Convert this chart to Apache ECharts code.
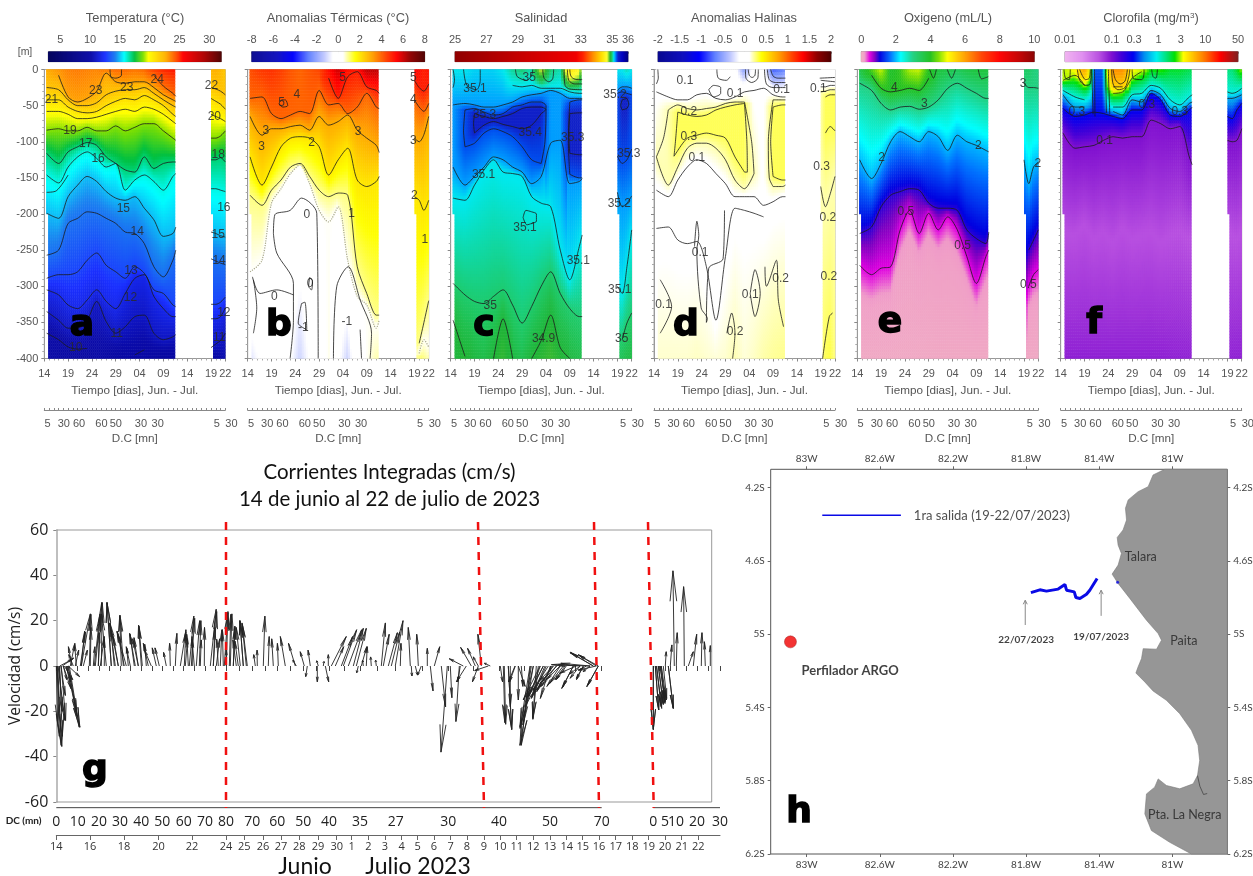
<!DOCTYPE html>
<html><head><meta charset="utf-8">
<style>html,body{margin:0;padding:0;background:#fff}#c{width:1253px;height:876px;filter:blur(0.45px)}</style>
<script src="https://cdn.jsdelivr.net/npm/echarts@6/dist/echarts.min.js"></script>
</head><body><div id="c"></div>
<script>
// ---------- shared section axes ----------
const stations=[0.5,3,5,7,9,11,13,15,17,19,21,23,25,27,27.6, 35,36,37,38];
const dayTickDays=[0,5,10,15,20,25,30,35,38];
const dayTickLabels=['14','19','24','29','04','09','14','19','22'];
const dcDays=[0.7,4.1,7.3,12,15,20.3,23.8,36.2,38];
const dcLabels=['5','30','60','60','50','30','30','5','30'];
const _=null;
// ---------- a: temperature ----------
const tempLevels=[24,23,22,21,20,19,17,16,15,14,13,12,11,10];
const tempDepths=[
[_,_,_,_,_,_,_,_,_,_,_,-8,-23,-33,-37,_,_,_,_],
[_,-8,-38,-45,-40,-30,-5,-17,-19,-17,-17,-25,-35,-42,-44,_,_,_,_],
[-25,-28,-42,-50,-50,-46,-35,-30,-28,-28,-25,-33,-42,-50,-52,-25,-27,-30,-35],
[-42,-42,-52,-58,-60,-58,-50,-44,-40,-42,-36,-42,-50,-62,-65,-40,-44,-48,-55],
[-58,-58,-62,-68,-68,-66,-62,-58,-55,-58,-52,-55,-62,-72,-75,-62,-65,-68,-72],
[-84,-82,-85,-85,-80,-85,-85,-78,-85,-80,-75,-75,-85,-95,-98,-95,-95,-92,-85],
[-116,-130,-114,-107,-101,-105,-121,-130,-139,-142,-121,-137,-130,-128,-128,-125,-125,-122,-128],
[-146,-157,-135,-121,-114,-123,-135,-130,-167,-153,-146,-155,-167,-148,-144,-165,-165,-167,-169],
[-199,-206,-176,-160,-148,-155,-169,-178,-181,-176,-192,-208,-231,-227,-218,-225,-227,-230,-232],
[-257,-250,-213,-206,-197,-199,-206,-213,-225,-227,-241,-273,-287,-264,-250,-262,-265,-268,-270],
[-289,-284,-284,-280,-264,-254,-271,-280,-289,-273,-282,-305,-310,-326,-328,-325,-325,-322,-315],
[-305,-312,-326,-331,-319,-305,-321,-331,-310,-289,-284,-314,-331,-342,-342,-345,-345,-342,-330],
[-335,-347,-358,-358,-347,-321,-349,-365,-356,-342,-340,-365,-374,-370,-367,-385,-380,-375,-365],
[-365,-374,-384,-387,-386,_,_,_,_,-395,-388,_,_,_,_,_,_,_,_]];
const tempSurface=[22.8,23.2,23.6,23.7,23.6,23.5,23.8,24,24,23.8,24,24.8,25.1,25.3,25.3,22.5,22.7,22.4,21.8];
const tempBottom=[10.2,9.9,9.7,9.6,9.6,10,9.8,9.6,9.8,9.9,10,9.6,9.5,9.6,9.6,10,10,10.2,10.5];
const tempLabels=[['23',10.8,-30],['23',17.3,-25],['24',23.7,-14],['21',1.5,-42],['22',35.1,-23],['20',35.7,-65],['19',5.4,-85],['17',8.7,-102],['16',11.3,-124],['18',36.5,-118],['15',16.6,-192],['16',37.7,-191],['14',19.5,-225],['15',36.5,-229],['14',36.7,-264],['13',18.2,-278],['12',18.1,-316],['12',37.7,-337],['11',15.2,-365],['11',36.7,-371],['10',6.6,-385]];
const tempExtra=[[[13.8,0],[14,-10],[15,-12],[16.2,-8],[16.2,0]],[[0.5,-170],[2.5,-168],[5,-146]]];
// ---------- b: thermal anomaly ----------
const anomTLevels=[5,4,3,2,1,0.5];
const anomTDepths=[
[_,_,_,_,_,_,_,_,-12,-40,-10,-3,-24,-29,-33,-15,-25,-30,-20],
[-40,-38,-61,-68,-63,-58,-61,-29,-49,-47,-61,-52,-33,-52,-54,-42,-52,-58,-47],
[-65,-91,-82,-82,-79,-77,-84,-65,-77,-72,-63,-84,-95,-105,-115,-95,-100,-90,-65],
[-121,-160,-135,-107,-95,-93,-95,-107,-146,-125,-109,-153,-162,-155,-148,-176,-181,-195,-181],
[-174,-188,-167,-153,-135,-130,-148,-167,-176,-171,-174,-273,-310,-340,-340,_,-379,-350,-320],
[-280,-264,-185,-165,-144,-132,-158,-195,-211,-190,-264,-314,-326,-358,-347,_,-393,-374,-384]];
const anomTSurface=[4.3,4.6,4.7,4.5,4.2,4,4.2,4.4,5.2,6,5.2,5.2,6.2,6.2,6.2,5.5,5.3,5,5.2];
const anomTBottom=[-0.9,-0.3,-0.1,0,-0.4,-1.1,-0.4,-0.1,0.6,-0.3,-1.1,0.2,0.5,0.8,0.8,0.8,1.2,1,0.8];
const anomTLabels=[['5',7.1,-46],['4',10.3,-35],['5',19.9,-11],['5',34.8,-12],['4',34.8,-42],['3',3.8,-84],['3',23.2,-86],['3',34.8,-99],['3',2.9,-107],['2',13.4,-101],['2',35,-175],['0',12.4,-201],['1',21.8,-199],['1',37.2,-236],['0',5.6,-314],['0',13.1,-296],['-1',11.7,-358],['-1',20.8,-349]];
const anomTExtra=[
[[5.4,-227],[5.7,-201],[8.9,-195],[11.3,-178],[14.5,-199],[14.8,-400]],
[[5.4,-227],[6.1,-254],[9.6,-296],[9.6,-347],[8.9,-400]],
[[1,-287],[2.6,-310],[6.1,-305],[9.6,-312]],
[[18,-400],[18.7,-300],[21.1,-273],[23.6,-319],[26,-365],[25.7,-400]],
[[23.6,-360],[23.9,-400]],
[[11.3,-324],[12,-322],[12.4,-360],[10.6,-351],[11.3,-324]],
[[1.2,-291],[1.9,-330],[1.2,-365]],
[[13,-288],[13.6,-292],[13.4,-305],[12.8,-300],[13,-288]],
[[7.1,-42],[7.9,-42],[8.4,-50],[7.4,-52],[6.6,-47],[7.1,-42]]];
// ---------- c: salinity ----------
const salLevels=[35.1,35.2,35.3,35.4,35.4,35.3,35.2,35.1,35,34.9];
const salDepths=[
[_,_,_,_,_,_,-22,-24,-22,-26,-26,-26,-31,-33,-33,_,_,_,_],
[-49,-47,-49,-52,-52,-49,-45,-38,-35,-33,-29,-33,-40,-40,-40,-29,-24,-24,-26],
[_,-56,-54,-59,-63,-61,-52,-49,-45,-45,_,_,-45,-42,-42,-33,-31,-33,-35],
[_,_,-61,-65,-68,-65,-61,-54,-52,-52,_,_,-61,-60,-60,_,-42,-40,_],
[_,_,-88,-77,-72,-76,-79,-82,-77,-61,_,_,-116,-118,-118,_,-56,-54,_],
[_,-107,-102,-88,-82,-86,-93,-107,-125,-130,_,_,-145,-150,-150,-120,-130,-125,-110],
[-135,-160,-148,-135,-121,-125,-135,-142,-158,-148,-102,-98,-158,-155,-151,-170,-190,-185,-175],
[-178,-181,-160,-139,-125,-142,-144,-148,-176,-185,-190,-250,-291,-245,-229,-300,-310,-273,-222],
[-296,-312,-321,-324,-314,-305,-326,-351,-328,-300,-280,-310,-331,-342,-342,_,-374,-351,-337],
[-347,-397,_,_,-400,-345,-400,_,-400,-375,-340,-385,-400,_,_,_,_,_,_]];
const salSurface=[35.1,35.1,35.13,35.13,35.13,35.1,35.03,35,35.05,34.7,35,35.05,34.4,34.6,35,35.1,35.1,35.05,35.1];
const salBottom=[34.92,34.88,34.92,34.94,34.9,34.87,34.92,34.95,34.9,34.88,34.86,34.89,34.92,34.94,34.94,34.97,34.96,34.94,34.93];
const salLabels=[['35.1',5.1,-26],['35',16.5,-11],['35.3',7.1,-63],['35.4',16.7,-88],['35.3',25.6,-95],['35.2',34.5,-35],['35.3',37.4,-116],['35.1',6.9,-146],['35.1',15.6,-219],['35.2',35.4,-186],['35.1',26.8,-265],['35.1',35.5,-305],['35',8.3,-327],['34.9',19.5,-372],['35',35.9,-372]];
const salExtra=[
[[23.8,0],[24,-22],[25,-27],[27.6,-28]],[[24.5,0],[24.8,-15],[26,-20],[27.6,-20]],[[25,0],[25.3,-10],[26.5,-14],[27.6,-14]],
[[19.3,0],[19.6,-12],[20.6,-17],[21.4,-13],[21.6,0]],[[13.6,0],[14,-10],[16,-15],[17,-8],[17.2,0]],
[[15.2,-205],[15.8,-195],[17,-197],[18,-200],[18,-210],[17,-213],[16,-215],[15.2,-205]],
[[0.5,0],[0.8,-15],[0.5,-25]],[[2.7,0],[3.4,-22],[5.4,-28],[6.2,-15],[6.2,0]],
[[3,-56],[2.7,-85],[3,-107]],[[19,-45],[20,-50],[19.8,-100],[19,-130]],[[5,-61],[4.8,-75],[5,-88]],[[19,-52],[20,-55],[19,-61]],
[[25,-45],[24.7,-100],[25,-145]],[[25,-61],[24.8,-90],[25,-116]],[[36,-42],[35.7,-50],[36,-56]],[[37,-40],[37.4,-48],[37,-54]]];
// ---------- d: haline anomaly ----------
const anomSLevels=[0.1,0.2,0.3,0.3,0.2,0.1,0.1];
const anomSDepths=[
[-31,-38,-42,-42,-35,-33,-40,-42,-38,-31,-29,-26,-35,-38,-38,-24,-24,-22,-22],
[_,-56,-49,-54,-56,-54,-52,-47,-45,-45,_,_,-42,-42,-42,-31,-30,-28,-28],
[_,_,-59,-63,-65,-63,-56,-52,-49,-47,_,_,-52,-49,-49,_,-38,-35,-35],
[_,_,-112,-95,-91,-88,-91,-95,-121,-142,_,_,-148,-153,-153,_,-88,-79,-85],
[-121,-160,-135,-109,-102,-102,-109,-125,-153,-165,-144,_,-162,-162,-160,-162,-190,-172,-148],
[-167,-176,-153,-135,-125,-130,-144,-158,-176,-176,-176,-188,-183,-176,-176,_,_,_,_],
[-220,-218,-236,-241,-238,-273,-347,-259,-192,-195,-199,-204,_,_,_,_,_,_,_]];
const anomSSurface=[0.05,0.05,0,0.08,0.05,0.05,0.02,0.02,0,-0.55,0,0,-0.8,-0.7,-0.6,0.05,0.05,0.05,0.05];
const anomSBottom=[0.17,0.17,0.17,0.17,0.18,0.17,0.16,0.17,0.2,0.16,0.18,0.21,0.23,0.24,0.24,0.25,0.3,0.32,0.25];
const anomSLabels=[['0.1',6.5,-15],['0.2',7.3,-58],['0.3',7.3,-93],['0.1',9,-122],['0.1',26.8,-28],['0.1',17,-33],['0.1',34.5,-26],['0.3',35.2,-135],['0.2',36.5,-205],['0.1',9.7,-253],['0.1',2,-325],['0.1',20.2,-312],['0.2',26.6,-289],['0.2',36.7,-287],['0.2',17,-363]];
const anomSExtra=[
[[0.8,0],[0.9,-12],[0.5,-20]],[[11.5,-28],[12.5,-22],[14,-25],[14,-33],[12.5,-38],[11.5,-28]],
[[19.2,0],[19.3,-12],[20.5,-18],[21.8,-12],[21.9,0]],[[19.8,0],[20,-8],[20.6,-11],[21.2,-8],[21.3,0]],
[[23.2,0],[23.6,-20],[25,-25],[27.6,-25]],[[23.8,0],[24.2,-14],[25.5,-18],[27.6,-18]],[[24.5,0],[25,-9],[26,-12],[27.6,-12]],
[[13.2,0],[13.5,-12],[15.2,-15],[16,-10]],
[[20.2,-310],[21.2,-277],[22.3,-310],[21.2,-342],[20.2,-310]],
[[23.3,-273],[23.6,-300],[25.7,-264],[26.1,-319],[27.2,-356]],
[[15.3,-365],[16.3,-337],[17,-365],[16.5,-400]],[[1.3,-291],[3.7,-328],[1.3,-365]],
[[34.8,-12],[38,-11]],[[35,-15],[38,-17]],[[35.4,-400],[36.8,-342],[37.5,-337]],
[[8.5,-245],[9,-210],[9.4,-230],[9,-250],[9.9,-330],[11.2,-345],[11,-350],[11.5,-275],[14.5,-262],[14.8,-195]],
[[5,-59],[4.5,-100],[4.2,-120],[5,-112]],[[19,-47],[19.5,-100],[19.6,-142],[19,-142]],
[[3,-56],[2,-95],[0.5,-121]],[[19,-45],[20.5,-100],[21,-144]],
[[25,-52],[24.5,-100],[25,-148]],[[25,-42],[24,-100],[24.2,-150],[25,-162]]];
// ---------- e: oxygen ----------
const oxyLevels=[4,3,2,1,0.5,0.2];
const oxyHidden=[false,false,false,false,false,true];
const oxyDepths=[
[_,-8,-26,-31,-29,-26,-29,-12,_,_,_,_,_,_,_,_,_,_,_],
[-19,-29,-47,-56,-52,-51,-55,-52,-42,-26,-19,-26,-33,-40,-40,-19,-25,-25,-26],
[-125,-151,-130,-100,-86,-93,-100,-86,-93,-112,-91,-100,-105,-112,-114,-125,-158,-135,-128],
[-227,-218,-190,-174,-169,-165,-167,-185,-192,-192,-195,-222,-234,-241,-225,_,-250,-236,-222],
[-271,-284,-275,-273,-222,-195,-227,-199,-222,-204,-222,-259,-296,-259,-250,_,-300,-284,-277],
[-310,-320,-312,-310,-255,-225,-255,-230,-250,-235,-255,-290,-330,-295,-285,_,-330,-315,-310]];
const oxySurface=[3.6,4.2,4.8,3.9,4.1,4.7,4.8,4,3.7,3.6,3.4,3.6,3.7,3.7,3.6,3.3,3.3,3.1,3];
const oxyBottom=[0.1,0.1,0.1,0.1,0.1,0.1,0.1,0.1,0.1,0.1,0.1,0.1,0.1,0.1,0.1,0.1,0.1,0.1,0.1];
const oxyLabels=[['4',7.8,-25],['3',14.1,-48],['3',34.8,-19],['2',5.1,-122],['2',25.4,-105],['2',37.9,-131],['0.5',10.2,-197],['0.5',22.1,-244],['0.5',35.9,-298]];
const oxyExtra=[[[15.2,0],[16,-12],[16.6,0]],[[18.9,0],[19.8,-12],[20.6,0]],[[25.4,0],[26.1,-13],[27.5,-10]]];
// ---------- f: chlorophyll ----------
const chlLevels=[5,3,1,0.6,0.3,0.1,0.055];
const chlHidden=[false,false,false,false,false,false,true];
const chlDepths=[
[_,_,-10,_,_,-24,-24,_,_,_,_,_,_,_,_,_,_,_,_],
[-15,-8,-22,_,_,-33,-31,-12,-3,_,_,_,_,_,_,_,_,_,_],
[-29,-38,-42,_,_,-52,-52,-35,-33,-22,-26,-42,-49,-38,-35,-31,-33,-31,-26],
[-35,-52,-52,_,_,-58,-63,-42,-45,-29,-35,-54,-58,-47,-45,-40,-40,-38,-35],
[-54,-65,-63,-59,-61,-65,-68,-56,-56,-33,-42,-63,-65,-56,-52,-65,-68,-56,-47],
[-88,-109,-107,-105,-98,-93,-95,-93,-93,-70,-75,-82,-79,-121,-132,-98,-100,-98,-82],
[-225,-230,-215,-235,-225,-240,-220,-235,-230,-225,-240,-230,-225,-235,-230,-225,-230,-235,-225]];
const chlSurface=[3,3.5,7,0.4,0.4,8,8,3.5,3.2,2.2,2.5,2,2,1.8,1.8,1.5,1.5,2,3];
const chlBottom=[0.085,0.085,0.085,0.085,0.085,0.085,0.085,0.085,0.085,0.085,0.085,0.085,0.085,0.085,0.085,0.085,0.085,0.085,0.085];
const chlLabels=[['0.3',3.4,-58],['0.3',18.1,-49],['0.3',25,-58],['0.1',9.2,-98]];
const chlExtra=[[[6.5,0],[6.8,-62]],[[7.1,0],[7.2,-65]],[[10,0],[10.3,-62]],[[9.4,0],[9.6,-60]],
[[0.7,0],[1,-12],[1.8,-14],[2,0]],[[3.5,0],[4,-15],[5.2,-22],[6.2,-20],[6.4,0]],[[4,0],[4.5,-8],[5.2,-14],[6,-12],[6.2,0]],
[[10.7,0],[11,-20],[12,-28],[13.5,-25],[14.3,-10],[14.5,0]],[[11,0],[11.5,-14],[12.5,-20],[13.5,-16],[14,0]],
[[15,0],[15.2,-12],[17,-14],[17.5,-5],[17.5,0]],[[19.1,0],[19.4,-10],[20,-12],[20.3,0]]];
// ---------- colour bars ----------
const tempStops=[[0,'#00005a'],[.25,'#0a0aa8'],[.33,'#1a30ff'],[.39,'#1a80f0'],[.44,'#00ffff'],[.5,'#00c040'],[.55,'#80e000'],[.58,'#ffff00'],[.68,'#ffb000'],[.75,'#ff4000'],[.78,'#ff0000'],[.9,'#b00000'],[1,'#500000']];
const anomStops=[[0,'#0a0a90'],[.15,'#1010c0'],[.24,'#0000ff'],[.33,'#6080ff'],[.42,'#c0c8ff'],[.47,'#ffffff'],[.53,'#ffffff'],[.55,'#ffffb0'],[.6,'#ffff00'],[.7,'#ffa000'],[.78,'#ff4000'],[.84,'#ff0000'],[.92,'#900000'],[1,'#500000']];
const salStops=[[0,'#900000'],[.45,'#d00000'],[.7,'#f00000'],[.74,'#ff2000'],[.8,'#ff9000'],[.85,'#ffe000'],[.88,'#ffff30'],[.898,'#20b030'],[.908,'#20c860'],[.918,'#00eaf0'],[.927,'#00a0ff'],[.936,'#0050f0'],[.945,'#1020c8'],[.97,'#0000c0'],[1,'#000080']];
const oxyStops=[[0,'#f0b0c0'],[.02,'#f0a0c8'],[.05,'#e000e0'],[.08,'#8000c0'],[.11,'#0000e0'],[.17,'#0070ff'],[.23,'#00ffff'],[.3,'#20d080'],[.4,'#20c020'],[.45,'#80e000'],[.5,'#ffff00'],[.6,'#ffa000'],[.7,'#ff4000'],[.8,'#ff0000'],[.92,'#c00000'],[1,'#8b0000']];
const chlStops=[[0,'#f0b4f0'],[.1,'#e090f0'],[.2,'#b850e0'],[.27,'#8010d0'],[.33,'#4000d8'],[.395,'#0000f0'],[.46,'#0090f0'],[.53,'#00f0f0'],[.6,'#00e060'],[.636,'#00e000'],[.685,'#ffff00'],[.8,'#ff8000'],[.9,'#ff0000'],[1,'#802020']];
const tempBarTicks=[5,10,15,20,25,30];
const anomTBarTicks=[-8,-6,-4,-2,0,2,4,6,8];
const salBarTicks=[25,27,29,31,33,35,36];
const anomSBarTicks=[-2,-1.5,-1,-0.5,0,0.5,1,1.5,2];
const oxyBarTicks=[0,2,4,6,8,10];
const chlBarTicks=[0.01,0.1,0.3,1,3,10,50];
// ---------- g: integrated currents ----------
const stickPos=[0,0.5,1,1.8,3,3.5,4.5,6,7,8,9.5,10,11.5,12,14,15.5,17,19,24,25,27,34,37,39,42,44,50,55,59,62,67,70,74,79,82,85,92,95,100,103,110,114,119,124,129,133,136,140,144,148,154,157,160,164,168,170,174,177,180,184,187,190,199,201,207,212,217,222,229,239,240,248,251,254,261,262,267,269,272,275,279,285,287,292,297,300,302,305,307,310,315,320,325,327,332,335,339,344,354,355,359,362,365,371,374,378,385,391,394,403,404,407,410,415,419,422,422,425,432,434,444,448,452,459,462,474,477,480,484,487,490,494,497,500,504,507,510,517,520,524,527,530,534,537,540,540,542,597,599,600,602,604,605,609,612,614,618,620,628,632,637,645,649,654,
33,38,42,45,48,55,58,62,65,68,72,78,82,86,90,128,132,135,138,143,157,162,167,170,173,177,182,187,191,1.5,3.3,5,12,13,7,20,25,
447,452,454,458.7,462,465,477,475,473.7,482,483.7,487,488.7,492,495.4,497,500.4,503.7,508.7,517,523.7,527,533.7,542,537,542,533.7,523.7,597,599,600.4,602,603.7,605,607,612];
const stickU=[0.6,2.2,0.9,3,1.2,5.5,2,5,1.5,3.7,2.2,6,4,5,2,-1.5,-2,1.5,2.2,4,1.8,0.3,0.7,2.2,1.5,1.8,-2.2,-1.9,-2.5,-2.2,-1.5,-4,-1.8,-2.5,-2.5,-1.2,-2.2,-3,-1.8,-1.9,-1.2,-0.3,0.7,2.4,1,2,-0.1,1.5,0.4,0.1,2.6,0.7,1.5,0.7,1.6,0,0.7,0.7,-1.5,-1.8,-1.5,-1.9,-0.7,-0.1,0.7,0.4,-0.7,-0.4,-2.2,-3,-1.5,-1.8,-0.7,-1,0,-0.7,0.3,1.5,0,6.6,3.7,5,5.9,5.9,4.4,4.4,-0.7,2.4,-0.3,0.4,-0.3,-0.3,1.8,2.6,4,3.7,3.4,0.3,-0.9,0.3,1,-0.7,-1.6,0,1.2,2.4,1.9,-2.8,0.7,-1.5,-1.2,-6.2,-4.4,-4.7,-3.4,-2.2,-2.6,-1.5,-6,-2.6,1,0.6,1.5,-2.5,3,-4,-5.9,-1.5,-6.6,-6.6,-6.6,-4.4,-7.4,-6.6,-5.9,-5.9,-4.4,-4.7,-7.4,-4.7,-3,-3,-13,-10,-8,-7.8,-5,0,1.5,2.2,2.2,2.2,2.2,0.4,2.2,0.7,-0.6,0.4,-0.3,2.2,1.5,0.3,-0.4,0,
0.7,2.5,0.4,0.4,0,-1.9,-1.5,-3.7,-0.7,-3.2,-0.7,-1.9,-1.9,-1.5,-0.7,0.7,-0.7,1.5,-1,0.7,1.5,-0.7,-0.4,0.7,0.7,0.7,-1.5,-1.5,-2.2,1.5,1.2,1.9,3.7,4.4,3.4,-0.7,1.5,
0.7,1.5,0,-2.9,0,0.7,-5.9,-3.7,-4.4,-2.5,-7.4,-7.4,-5.9,-6.6,-6.6,-6.6,-7.4,-5.9,-4.4,-5.1,-4.4,-3,-3,-5,-10.3,-8.8,-17,-9.5,0,1.5,2.2,2.2,2.2,1.5,1.5,2.2];
const stickV=[-25,-35.5,-31,-24,-20,3,-13,3.5,-6,-6,-7,-27,-22,-4.7,10,8.5,5,7,15,23,7,17,8.5,22,28,13,23,28,19,13,22.5,15,8.5,14.4,12,18,10,7,8,8,6,10,14.4,15,12,22,13,20,11.5,17,25,17,12,16,24,7,23,17,11.5,17,20,19,5,7,22,13,12,10,13,10,2.6,6.3,-4.7,7,-7,2.3,2,-7,5,13,8.5,13,16,16,16.6,16.6,-3,8.5,2.5,8.5,4,2.6,19,14,14.7,15,20,10,17,-4.4,-4,14,-4,7.8,-11,8.5,-18,-38,-14,-24.5,-7,3.2,-7,8.2,7.8,4,-7,14,-2,1.2,-7,-25.7,-28,-7,-9,-35,-26.8,-23.5,-18,-13.5,-14.3,-14.3,-10.6,-9,-9,-7.6,-6,-9.4,-3.2,-3.5,-6,-1.8,1.2,6,-1.8,4.9,-9,-28,-19.4,-18,-16.5,-15.7,-15,6.3,-18.7,9.3,42,14.7,35,6.3,14,14.7,10.7,9,
22.8,22.8,14.7,28,11.8,28,16,19,22,15.4,8,14,12.5,17.6,9.6,16,14,21,11.8,20,24,11.8,16,23.5,22.8,17.6,11,20,18.4,-35,-31,-24,-21,-27,-10,9.6,15.4,
-25,-28,-18,-7,-15,-9,-35,-26,-27.5,-23,-15,-14,-13.5,-10.6,-11.3,-7,-7.6,-6,-6,-9.9,-5.4,-5.4,-2.5,-9,5.9,4.9,0.6,0.5,-28,-19.4,-18.7,-17,-16.5,-15.7,-14.3,-18.7];
const cmsToPos=272/120;
const dcPos=[0,21.4,42.7,63.7,85,106,127.4,148.7,169.7,196,221,247,272.7,303.7,339.4,392,442.7,493.7,545.4,597,608.7,619.7,640.7,663.7];
const dcPosLabels=['0','10','20','30','40','50','60','70','80','70','60','50','40','35','27','30','40','50','70','0','5','10','20','30'];
const dcMinorPos=[10.7,32,53,74,95.5,117,138,159,183,208.5,234,260,288,321,366,417,468,519,603,614,630,652];
const datePos=[0,33.7,67.7,102.3,135.7,169.7,188,206.7,224.7,243,261.7,280.4,295.4,312,328.7,345.4,361.4,377.7,394.4,410.7,427.7,444,460.4,477,493.7,510.4,526.4,542.7,559.4,576,592.4,608.7,625.4,642];
const dateLabels=['14','16','18','20','22','24','25','26','27','28','29','30','1','2','3','4','5','6','7','8','9','10','11','12','13','14','15','16','17','18','19','20','21','22'];
const redLines=[[[169.7,63.5],[169.7,-62.6]],[[421.7,63.5],[427.7,-62.6]],[[537.7,63.5],[542.7,-62.6]],[[591.7,63.5],[597.4,-62.6]]];
const plotFrameRight=655.4;
// ---------- h: map ----------
const lonTicks=[-83,-82.6,-82.2,-81.8,-81.4,-81];
const latTicks=[-6.2,-5.8,-5.4,-5,-4.6,-4.2];
const coastLon=[-81.042,-81.106,-81.133,-81.188,-81.242,-81.257,-81.251,-81.27,-81.302,-81.297,-81.279,-81.297,-81.33,-81.297,-81.233,-81.142,-81.078,-81.06,-81.087,-81.16,-81.169,-81.188,-81.2,-81.151,-81.106,-81.033,-80.96,-80.896,-80.86,-80.851,-80.863,-80.887,-80.96,-81.033,-81.078,-81.097,-81.142,-81.151,-81.115,-81.015,-80.896,-80.7,-80.7];
const coastLat=[-4.1,-4.131,-4.195,-4.222,-4.267,-4.313,-4.377,-4.431,-4.472,-4.514,-4.559,-4.623,-4.672,-4.723,-4.805,-4.924,-4.997,-5.033,-5.082,-5.079,-5.133,-5.179,-5.212,-5.261,-5.31,-5.361,-5.434,-5.525,-5.607,-5.69,-5.772,-5.817,-5.844,-5.826,-5.79,-5.835,-5.872,-5.981,-6.072,-6.136,-6.2,-6.2,-4.1];
const trackLon=[-81.412,-81.452,-81.47,-81.506,-81.528,-81.537,-81.579,-81.588,-81.625,-81.689,-81.725,-81.774];
const trackLat=[-4.696,-4.76,-4.782,-4.805,-4.8,-4.769,-4.76,-4.729,-4.754,-4.765,-4.758,-4.773];
const sechuraHook=[[-80.863,-5.772],[-80.85,-5.83],[-80.83,-5.875],[-80.81,-5.87]];
const argoPoint=[-83.089,-5.042];
const trackDot=[-81.3,-4.716];
const legendLine=[[-82.915,-4.351],[-82.485,-4.351]];
const arrowStarts=[[-81.805,-4.95],[-81.39,-4.9]];
const arrowEnds=[[-81.805,-4.815],[-81.39,-4.76]];
const placeLabels=[['Talara',-81.173,-4.577],['Paita',-80.938,-5.039],['Pta. La Negra',-80.933,-5.985]];
const boldLabels=[['22/07/2023',-81.8,-5.03,10],['19/07/2023',-81.39,-5.015,10],['Perfilador ARGO',-82.763,-5.2,13]];
const legendText=['1ra salida (19-22/07/2023)',-81.987,-4.355];

// ---------- helpers ----------
const GREY='#555', FONT='"Liberation Sans",Arial,sans-serif', CAL='Lato,"Noto Sans",sans-serif', SEG='"Open Sans","Noto Sans",sans-serif';
function hex(c){return [parseInt(c.slice(1,3),16),parseInt(c.slice(3,5),16),parseInt(c.slice(5,7),16)];}
function sampleStops(stops,n){const out=[];for(let i=0;i<n;i++){const f=i/(n-1);let k=0;while(k<stops.length-2&&stops[k+1][0]<f)k++;
 const a=stops[k],b=stops[k+1],w=Math.min(1,Math.max(0,(f-a[0])/(b[0]-a[0])));const A=hex(a[1]),B=hex(b[1]);
 out.push('rgb('+A.map((x,j)=>Math.round(x+(B[j]-x)*w)).join(',')+')');}return out;}
function bracket(t){const b=t<=27.6?[0,14]:[15,18];
 if(t<=stations[b[0]])return {i:b[0],j:b[0],w:0};
 for(let i=b[0];i<b[1];i++)if(t<=stations[i+1])return {i,j:i+1,w:(t-stations[i])/(stations[i+1]-stations[i])};
 return {i:b[1],j:b[1],w:0};}
function inData(t,z){if(t<=27.6)return t>=(z>-200?0.5:1.05);return t>=(z>-200?35:35.6)&&t<=38;}
const COLS=90,ROWS=96;
function sideProfile(levels,depths,surface,bottom,tf,br,side){
 const lerp=a=>a[br.i]+(a[br.j]-a[br.i])*br.w;const me=side?br.j:br.i,ot=side?br.i:br.j;
 const pts=[[0,tf(lerp(surface))]];
 depths.forEach((d,k)=>{if(d[me]==null)return;const z=d[ot]==null?d[me]:lerp(d);if(z<pts[pts.length-1][0]&&z>-400)pts.push([z,tf(levels[k])]);});
 pts.push([-400,tf(lerp(bottom))]);return pts;}
function evalProfile(pts,z){let k=0;while(k<pts.length-2&&pts[k+1][0]>z)k++;const w=(pts[k][0]-z)/(pts[k][0]-pts[k+1][0]);return pts[k][1]+(pts[k+1][1]-pts[k][1])*w;}
function buildField(levels,depths,surface,bottom,tf){const out=[];
 for(let c=0;c<COLS;c++){const t=(c+.5)/COLS*38;if(t>27.6&&t<35)continue;
  const br=bracket(t);
  const A=sideProfile(levels,depths,surface,bottom,tf,br,0),B=sideProfile(levels,depths,surface,bottom,tf,br,1);
  for(let r=0;r<ROWS;r++){const z=-(r+.5)/ROWS*400;if(!inData(t,z))continue;
   out.push([c,ROWS-1-r,evalProfile(A,z)*(1-br.w)+evalProfile(B,z)*br.w]);}}
 return out;}
function contourData(d){const out=[];
 stations.forEach((s,i)=>{if(i===15)out.push([31,'-']);out.push(d[i]!=null?[s,d[i]]:[s,'-']);});return out;}

const grids=[],xAxes=[],yAxes=[],series=[],visualMaps=[],graphics=[];
const addX=o=>{xAxes.push(o);return xAxes.length-1;},addY=o=>{yAxes.push(o);return yAxes.length-1;};
const range=n=>Array.from({length:n},(v,i)=>String(i));
const addGrid=o=>{grids.push(Object.assign({outerBoundsMode:'none',containLabel:false},o));return grids.length-1;};

const panels=[
 {left:44.3,barLeft:48.3,title:'Temperatura (°C)',tc:135,levels:tempLevels,depths:tempDepths,surface:tempSurface,bottom:tempBottom,labels:tempLabels,extra:tempExtra,stops:tempStops,min:3,max:32,ticks:tempBarTicks},
 {left:247.7,barLeft:251.7,title:'Anomalias Térmicas (°C)',tc:338,levels:anomTLevels,depths:anomTDepths,surface:anomTSurface,bottom:anomTBottom,labels:anomTLabels,extra:anomTExtra,stops:anomStops,min:-8,max:8,ticks:anomTBarTicks,dotted:[5]},
 {left:450.7,barLeft:455,title:'Salinidad',tc:541,levels:salLevels,depths:salDepths,surface:salSurface,bottom:salBottom,labels:salLabels,extra:salExtra,stops:salStops,min:25,max:36,ticks:salBarTicks},
 {left:654,barLeft:658,title:'Anomalias Halinas',tc:744,levels:anomSLevels,depths:anomSDepths,surface:anomSSurface,bottom:anomSBottom,labels:anomSLabels,extra:anomSExtra,stops:anomStops,min:-2,max:2,ticks:anomSBarTicks},
 {left:857.3,barLeft:861.3,title:'Oxigeno (mL/L)',tc:948,levels:oxyLevels,hidden:oxyHidden,depths:oxyDepths,surface:oxySurface,bottom:oxyBottom,labels:oxyLabels,extra:oxyExtra,stops:oxyStops,min:0,max:10,ticks:oxyBarTicks},
 {left:1060.7,barLeft:1065,title:'Clorofila (mg/m³)',tc:1151,levels:chlLevels,hidden:chlHidden,depths:chlDepths,surface:chlSurface,bottom:chlBottom,labels:chlLabels,extra:chlExtra,stops:chlStops,min:-2,max:Math.log10(50),ticks:chlBarTicks,log:true}
];
const axisLbl={color:GREY,fontFamily:FONT,fontSize:11};
const axisLn={lineStyle:{color:'#999',width:1}};
panels.forEach((p,pi)=>{
 const tf=p.log?Math.log10:(v=>v);
 const gb=addGrid({left:p.barLeft,top:51.7,width:173,height:10,show:true,borderColor:'#888',borderWidth:1,backgroundColor:'transparent'});
 const bxCat=addX({type:'category',gridIndex:gb,show:false,data:range(173)});
 const byCat=addY({type:'category',gridIndex:gb,show:false,data:['0']});
 addX({type:'value',gridIndex:gb,position:'top',min:p.min,max:p.max,
   axisLine:{show:false},splitLine:{show:false},
   axisTick:{show:true,inside:true,length:2,lineStyle:{color:'#777'},customValues:p.ticks.map(tf)},
   axisLabel:{...axisLbl,margin:6,customValues:p.ticks.map(tf),formatter:v=>{const i=p.ticks.findIndex(t=>Math.abs(tf(t)-v)<1e-6);return i<0?'':String(p.ticks[i]);}}});
 addY({type:'value',gridIndex:gb,show:false,min:0,max:1});
 const barSeries=series.length;
 series.push({type:'heatmap',xAxisIndex:bxCat,yAxisIndex:byCat,silent:true,progressive:0,data:Array.from({length:173},(v,i)=>[i,0,p.min+(i+.5)/173*(p.max-p.min)])});
 const g=addGrid({left:p.left,top:69.5,width:181,height:289,show:true,borderColor:'#aaa',borderWidth:1,backgroundColor:'transparent'});
 const xCat=addX({type:'category',gridIndex:g,show:false,data:range(COLS)});
 const yCat=addY({type:'category',gridIndex:g,show:false,data:range(ROWS)});
 const xVal=addX({type:'value',gridIndex:g,position:'bottom',min:0,max:38,interval:5,splitLine:{show:false},
   name:'Tiempo [dias], Jun. - Jul.',nameLocation:'middle',nameGap:26,nameTextStyle:{color:GREY,fontFamily:FONT,fontSize:11.7},
   axisLine:{show:true,...axisLn},axisTick:{show:true,length:3,lineStyle:{color:'#888'}},minorTick:{show:true,splitNumber:5,length:2,lineStyle:{color:'#aaa'}},
   axisLabel:{...axisLbl,margin:10,formatter:v=>{const i=dayTickDays.indexOf(v);return i<0?'':dayTickLabels[i];}}});
 addX({type:'value',gridIndex:g,position:'bottom',offset:51.5,min:0,max:38,splitLine:{show:false},
   name:'D.C [mn]',nameLocation:'middle',nameGap:23,nameTextStyle:{color:GREY,fontFamily:FONT,fontSize:11.7},
   axisLine:{show:true,lineStyle:{color:'#888'}},axisTick:{show:true,length:2,inside:true,lineStyle:{color:'#888'},customValues:range(39).map(Number)},
   axisLabel:{...axisLbl,margin:8,alignMaxLabel:'left',customValues:dcDays,formatter:v=>{const i=dcDays.indexOf(v);return i<0?'':dcLabels[i];}}});
 const yVal=addY({type:'value',gridIndex:g,position:'left',min:-400,max:0,interval:50,splitLine:{show:false},
   axisLine:{show:true,...axisLn},axisTick:{show:true,length:3,lineStyle:{color:'#888'}},minorTick:{show:true,splitNumber:5,length:2,lineStyle:{color:'#aaa'}},
   axisLabel:{...axisLbl,show:pi===0,margin:6}});
 const fieldSeries=series.length;
 series.push({type:'heatmap',xAxisIndex:xCat,yAxisIndex:yCat,silent:true,progressive:0,data:buildField(p.levels,p.depths,p.surface,p.bottom,tf)});
 visualMaps.push({type:'continuous',show:false,dimension:2,min:p.min,max:p.max,seriesIndex:[barSeries,fieldSeries],inRange:{color:sampleStops(p.stops,220)}});
 p.depths.forEach((d,k)=>{ if(p.hidden&&p.hidden[k])return;
  const dotted=p.dotted&&p.dotted.includes(k);
  series.push({type:'line',xAxisIndex:xVal,yAxisIndex:yVal,data:contourData(d),silent:true,symbol:'none',smooth:0.3,connectNulls:false,
    lineStyle:dotted?{color:'#a8a88a',width:1.2,type:'dotted'}:{color:'#1c1c1c',width:1,opacity:.8}});
 });
 p.extra.forEach(e=>series.push({type:'line',xAxisIndex:xVal,yAxisIndex:yVal,data:e,silent:true,symbol:'none',smooth:0.3,lineStyle:{color:'#1c1c1c',width:1,opacity:.8}}));
 series.push({type:'scatter',xAxisIndex:xVal,yAxisIndex:yVal,silent:true,clip:false,symbolSize:1,itemStyle:{color:'rgba(0,0,0,0)'},
   data:p.labels.map(l=>[l[1],l[2],l[0]]),
   label:{show:true,position:'inside',formatter:o=>o.data[2],color:'#2a2a2a',fontFamily:FONT,fontSize:12,opacity:.85}});
 graphics.push({type:'text',x:p.tc,y:18,silent:true,style:p.log?{text:'Clorofila (mg/m{s|3})',rich:{s:{fontSize:8,verticalAlign:'top',fill:GREY}},fill:GREY,fontFamily:FONT,fontSize:12.8,align:'center',verticalAlign:'middle'}:{text:p.title,fill:GREY,fontFamily:FONT,fontSize:12.8,align:'center',verticalAlign:'middle'}});
});
// ---------- g ----------
const gg=addGrid({left:56.3,top:530,width:663.7,height:272,show:false});
const gxDC=addX({type:'value',gridIndex:gg,position:'bottom',offset:5.7,min:0,max:663.7,splitLine:{show:false},
  axisLine:{show:false},axisTick:{show:true,length:5,lineStyle:{color:'#444'},customValues:dcPos.concat(dcMinorPos)},
  axisLabel:{color:'#222',fontFamily:SEG,fontSize:14,margin:7,showMinLabel:true,showMaxLabel:true,customValues:dcPos,formatter:v=>{const i=dcPos.indexOf(v);return i<0?'':dcPosLabels[i];}}});
addX({type:'value',gridIndex:gg,position:'bottom',offset:33,min:0,max:663.7,splitLine:{show:false},
  axisLine:{show:true,lineStyle:{color:'#666'}},axisTick:{show:true,length:5,lineStyle:{color:'#666'},customValues:datePos},
  axisLabel:{color:'#333',fontFamily:SEG,fontSize:11,margin:6,customValues:datePos,formatter:v=>{const i=datePos.indexOf(v);return i<0?'':dateLabels[i];}}});
const gy=addY({type:'value',gridIndex:gg,min:-60,max:60,interval:20,splitLine:{show:false},
  name:'Velocidad (cm/s)',nameLocation:'middle',nameRotate:90,nameGap:33,nameMoveOverlap:false,nameTextStyle:{color:'#222',fontFamily:SEG,fontSize:15.5},
  axisLine:{show:true,lineStyle:{color:'#aaa',width:1.5}},axisTick:{show:true,length:3,lineStyle:{color:'#888'}},
  axisLabel:{color:'#222',fontFamily:SEG,fontSize:16,margin:8}});
series.push({type:'line',xAxisIndex:gxDC,yAxisIndex:gy,silent:true,symbol:'none',clip:false,lineStyle:{color:'#999',width:1},data:[[0,60],[plotFrameRight,60],[plotFrameRight,-60],[0,-60]]});
series.push({type:'line',xAxisIndex:gxDC,yAxisIndex:gy,silent:true,symbol:'none',clip:false,lineStyle:{color:'#444',width:1},data:[[0,-62.5],[545.4,-62.5],[570,'-'],[597,-62.5],[663.7,-62.5]]});
series.push({type:'custom',xAxisIndex:gxDC,yAxisIndex:gy,silent:true,clip:false,coordinateSystem:'cartesian2d',
  encode:{x:0,y:2},data:stickPos.map((p,i)=>[p,stickU[i],stickV[i]]),
  renderItem:(params,api)=>{const p=api.value(0),u=api.value(1),v=api.value(2);
    const a=api.coord([p,0]),b=api.coord([p+u*cmsToPos,v]);
    const dx=b[0]-a[0],dy=b[1]-a[1],L=Math.hypot(dx,dy)||1,ux=dx/L,uy=dy/L,h=L*.32,w=Math.max(1,L*.035);
    const l=[b[0]-ux*h-uy*w,b[1]-uy*h+ux*w],r=[b[0]-ux*h+uy*w,b[1]-uy*h-ux*w];
    const st={stroke:'#222',lineWidth:.9,fill:null};
    return {type:'group',children:[{type:'polyline',shape:{points:[a,b]},style:st},{type:'polyline',shape:{points:[l,b,r]},style:st}]};}});
redLines.forEach(r=>series.push({type:'line',xAxisIndex:gxDC,yAxisIndex:gy,silent:true,symbol:'none',clip:false,z:5,lineStyle:{color:'#f01010',width:2.5,type:[8,7]},data:r}));
[['Corrientes Integradas (cm/s)',389.5,472,20.5,CAL,'#111','normal'],['14 de junio al 22 de julio de 2023',389.5,499,20.5,CAL,'#111','normal'],
 ['DC (mn)',23.6,820.7,10,CAL,'#222','bold'],['Junio',305,867,23,CAL,'#111','normal'],['Julio 2023',418,867,23,CAL,'#111','normal'],['[m]',25,52,10.5,FONT,GREY,'normal']]
 .forEach(t=>graphics.push({type:'text',x:t[1],y:t[2],silent:true,style:{text:t[0],fontSize:t[3],fontFamily:t[4],fill:t[5],fontWeight:t[6],align:'center',verticalAlign:'middle'}}));
[['a',82,326],['b',279,326],['c',484,326],['d',686,326],['e',890,323],['f',1094,324],['g',95,771],['h',799,813]]
 .forEach(t=>graphics.push({type:'text',x:t[1],y:t[2],silent:true,z:50,style:{text:t[0],fontSize:36,fontWeight:900,fontFamily:'"DejaVu Sans",sans-serif',fill:'#000',stroke:'#000',lineWidth:1.5,align:'center',verticalAlign:'middle'}}));
// ---------- h ----------
const hg=addGrid({left:770.7,top:469.3,width:456.6,height:384.7,show:true,borderColor:'#555',borderWidth:1,backgroundColor:'transparent'});
const mapLbl={color:'#444',fontFamily:CAL,fontSize:10,margin:6};
const lonAxis=pos=>({type:'value',gridIndex:hg,position:pos,min:-83.197,max:-80.7,splitLine:{show:false},axisLine:{show:false},
  axisTick:{show:true,length:3,lineStyle:{color:'#666'},customValues:lonTicks},axisLabel:{...mapLbl,customValues:lonTicks,formatter:v=>Math.abs(v)+'W'}});
const latAxis=pos=>({type:'value',gridIndex:hg,position:pos,min:-6.2,max:-4.1,splitLine:{show:false},axisLine:{show:false},
  axisTick:{show:true,length:3,lineStyle:{color:'#666'},customValues:latTicks},axisLabel:{...mapLbl,customValues:latTicks,formatter:v=>Math.abs(v)+'S'}});
const mx=addX(lonAxis('bottom'));addX(lonAxis('top'));
const my=addY(latAxis('left'));addY(latAxis('right'));
series.push({type:'custom',xAxisIndex:mx,yAxisIndex:my,silent:true,coordinateSystem:'cartesian2d',data:[[coastLon[0],coastLat[0]]],encode:{x:0,y:1},
  renderItem:(params,api)=>({type:'polygon',shape:{points:coastLon.map((lo,i)=>api.coord([lo,coastLat[i]]))},style:{fill:'#969696',stroke:'#7a7a7a',lineWidth:.6}})});
const mapLine=(data,style)=>series.push({type:'line',xAxisIndex:mx,yAxisIndex:my,silent:true,symbol:'none',lineStyle:style,data});
mapLine(sechuraHook,{color:'#444',width:.8});
mapLine(trackLon.map((lo,i)=>[lo,trackLat[i]]),{color:'#0a0ae6',width:3});
mapLine(legendLine,{color:'#0a0ae6',width:1.6});
series.push({type:'custom',xAxisIndex:mx,yAxisIndex:my,silent:true,coordinateSystem:'cartesian2d',encode:{x:0,y:1},
  data:arrowStarts.map((s,i)=>[s[0],s[1],arrowEnds[i][0],arrowEnds[i][1]]),
  renderItem:(params,api)=>{const a=api.coord([api.value(0),api.value(1)]),b=api.coord([api.value(2),api.value(3)]);
    const st={stroke:'#888',lineWidth:1,fill:null};
    return {type:'group',children:[{type:'polyline',shape:{points:[a,b]},style:st},{type:'polyline',shape:{points:[[b[0]-2,b[1]+4],b,[b[0]+2,b[1]+4]]},style:st}]};}});
const mapPoint=(d,size,style)=>series.push({type:'scatter',xAxisIndex:mx,yAxisIndex:my,silent:true,symbolSize:size,itemStyle:style,data:[d]});
mapPoint(argoPoint,12,{color:'#f00000',borderColor:'#a02020',borderWidth:.6});
mapPoint(trackDot,3,{color:'#0a0ae6'});
const textSeries=(rows,lab)=>series.push({type:'scatter',xAxisIndex:mx,yAxisIndex:my,silent:true,symbolSize:1,itemStyle:{color:'rgba(0,0,0,0)'},
  data:rows,label:Object.assign({show:true,position:'inside',fontFamily:CAL,formatter:o=>o.data[2]},lab)});
textSeries(placeLabels.map(l=>[l[1],l[2],l[0]]),{color:'#222',fontSize:12.5});
textSeries(boldLabels.slice(0,2).map(l=>[l[1],l[2],l[0]]),{color:'#111',fontSize:10,fontWeight:'bold'});
textSeries(boldLabels.slice(2).map(l=>[l[1],l[2],l[0]]),{color:'#111',fontSize:13,fontWeight:'bold'});
textSeries([[legendText[1],legendText[2],legendText[0]]],{color:'#222',fontSize:13});

const chart=echarts.init(document.getElementById('c'),null,{renderer:'canvas',width:1253,height:876});
chart.setOption({animation:false,backgroundColor:'#fff',grid:grids,xAxis:xAxes,yAxis:yAxes,visualMap:visualMaps,series,graphic:{elements:graphics}});
</script></body></html>
